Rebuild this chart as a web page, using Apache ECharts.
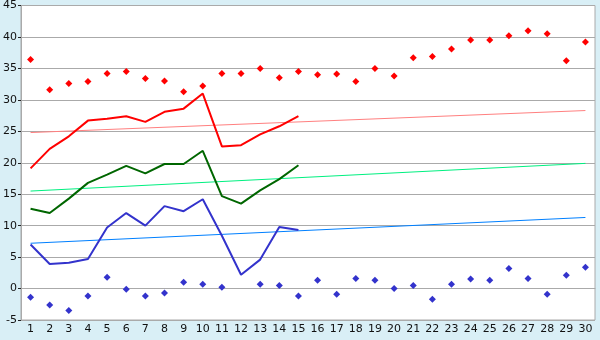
<!DOCTYPE html>
<html><head><meta charset="utf-8">
<script src="https://cdn.jsdelivr.net/npm/echarts@6/dist/echarts.min.js"></script>
<style>html,body{margin:0;padding:0;background:#d9eff6;}#c{width:600px;height:340px;}</style>
</head><body><div id="c"></div>
<script>
var categories = ['1','2','3','4','5','6','7','8','9','10','11','12','13','14','15','16','17','18','19','20','21','22','23','24','25','26','27','28','29','30'];
var redLine = [19.1,22.2,24.2,26.7,27.0,27.4,26.5,28.1,28.6,31.0,22.6,22.8,24.5,25.8,27.4];
var greenLine = [12.7,12.0,14.3,16.8,18.1,19.5,18.3,19.8,19.8,21.9,14.7,13.5,15.6,17.4,19.6];
var blueLine = [7.0,3.9,4.1,4.7,9.7,12.0,10.0,13.1,12.3,14.2,8.4,2.2,4.6,9.8,9.3];
var redDots = [36.4,31.6,32.6,32.9,34.2,34.5,33.4,33.0,31.3,32.2,34.2,34.2,35.0,33.5,34.5,34.0,34.1,32.9,35.0,33.8,36.7,36.9,38.1,39.5,39.5,40.2,41.0,40.5,36.2,39.2];
var blueDots = [-1.4,-2.6,-3.5,-1.2,1.8,-0.1,-1.2,-0.7,1.0,0.7,0.2,null,0.7,0.5,-1.2,1.3,-0.9,1.6,1.3,0.0,0.5,-1.7,0.7,1.5,1.3,3.2,1.6,-0.9,2.1,3.4];
var redTrend = [[0,24.8],[29,28.3]];
var greenTrend = [[0,15.5],[29,19.9]];
var blueTrend = [[0,7.2],[29,11.3]];

var chart = echarts.init(document.getElementById('c'));
function ln(data,color,w){return {type:'line',data:data,showSymbol:false,symbol:'none',lineStyle:{color:color,width:w},itemStyle:{color:color},animation:false,z:3};}
function dots(data,color){return {type:'scatter',data:data,symbol:'diamond',symbolSize:7,itemStyle:{color:color,opacity:1},animation:false,z:4};}
chart.setOption({
  backgroundColor:'#d9eff6',
  grid:{left:20,right:5,top:5,bottom:20,show:true,backgroundColor:'#ffffff',borderColor:'#aaaaaa',borderWidth:1},
  xAxis:{type:'category',data:categories,boundaryGap:true,
    axisLine:{lineStyle:{color:'#aaaaaa'}},
    axisTick:{alignWithLabel:true,length:5,lineStyle:{color:'#222'}},
    axisLabel:{color:'#111',fontFamily:'DejaVu Sans',fontSize:11,margin:4,interval:0},
    splitLine:{show:false}},
  yAxis:{type:'value',min:-5,max:45,interval:5,
    axisLine:{show:true,lineStyle:{color:'#aaaaaa'}},
    axisTick:{show:true,length:3,lineStyle:{color:'#222'}},
    axisLabel:{color:'#111',fontFamily:'DejaVu Sans',fontSize:11,margin:4},
    splitLine:{lineStyle:{color:'#aaaaaa'}}},
  series:[
    ln(redTrend,'#ff8080',1),
    ln(greenTrend,'#00f080',1),
    ln(blueTrend,'#0080ff',1),
    ln(redLine,'#ff0000',2),
    ln(greenLine,'#006600',2),
    ln(blueLine,'#3333cc',2),
    dots(redDots,'#ff0000'),
    dots(blueDots,'#3333cc')
  ]
});
</script></body></html>
